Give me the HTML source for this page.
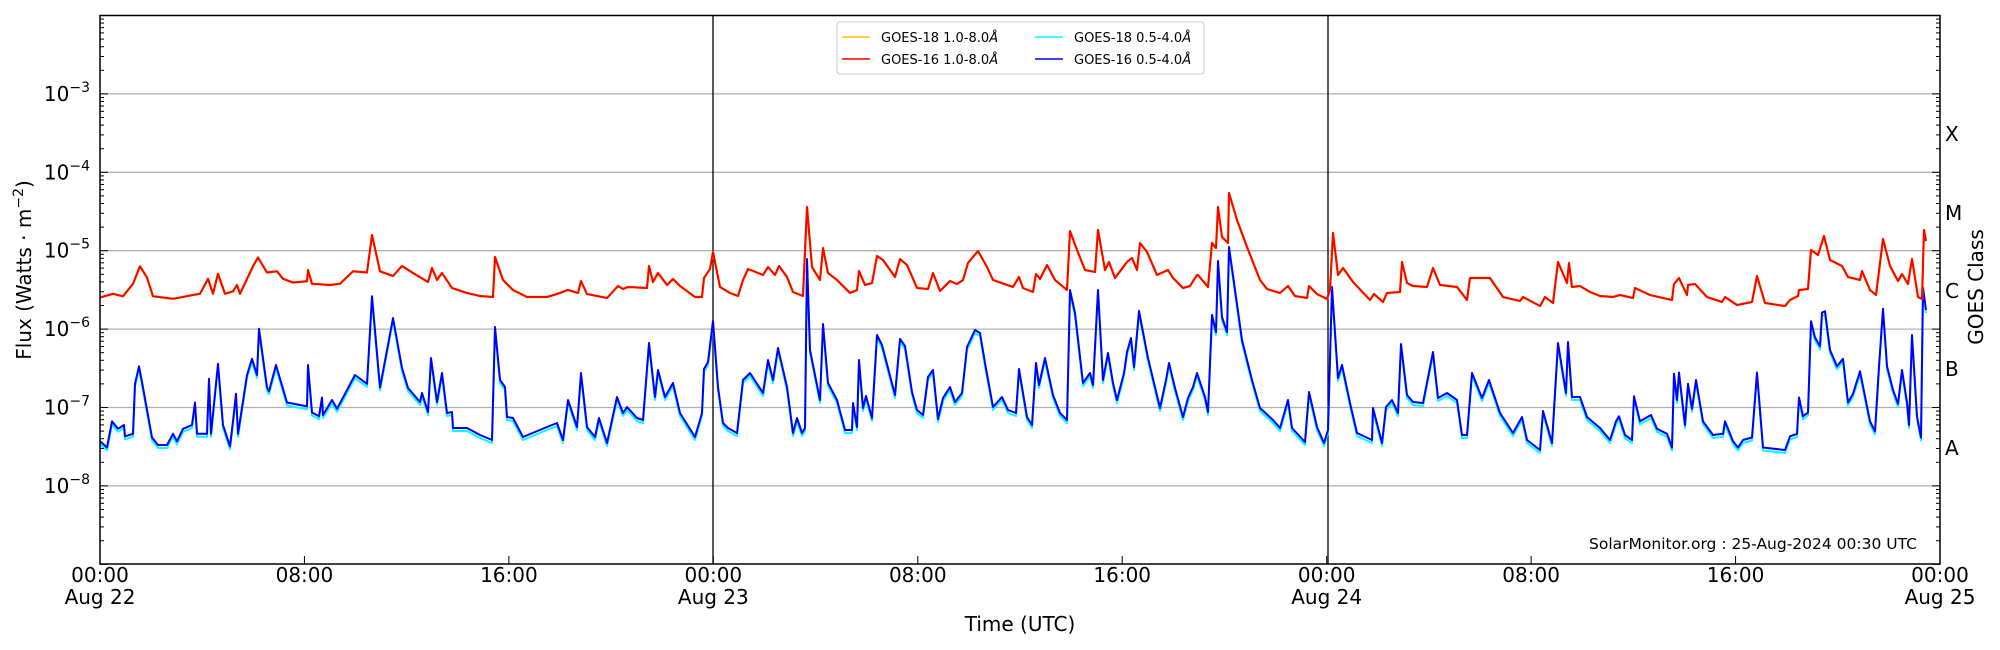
<!DOCTYPE html>
<html><head><meta charset="utf-8"><style>
html,body{margin:0;padding:0;background:#fff;}
svg{display:block;font-family:"DejaVu Sans","Liberation Sans",sans-serif;}
</style></head><body>
<svg id="s" width="2000" height="650" xmlns="http://www.w3.org/2000/svg">
<g id="grid" stroke="#b0b0b0" stroke-width="1.3"></g>
<line x1="713" y1="15.5" x2="713" y2="564" stroke="#000" stroke-width="1.3"/>
<line x1="1328" y1="15.5" x2="1328" y2="564" stroke="#000" stroke-width="1.3"/>
<polyline id="cy" fill="none" stroke="#00ffff" stroke-width="2" stroke-linejoin="round" transform="translate(0,3)"/>
<polyline id="bl" fill="none" stroke="#0000ff" stroke-width="2" stroke-linejoin="round"/>
<polyline id="yl" fill="none" stroke="#ffc000" stroke-width="2.4" stroke-linejoin="round"/>
<polyline id="rd" fill="none" stroke="#ff0000" stroke-width="2" stroke-linejoin="round"/>
<g id="ticks" stroke="#000" stroke-width="1"></g>
<rect x="100" y="15.5" width="1840" height="548.5" fill="none" stroke="#000" stroke-width="1.5"/>
<g id="labels" font-size="20" fill="#000"></g>
<rect x="837" y="22" width="367" height="52" rx="3" fill="#fff" stroke="#ccc" stroke-width="1"/>
<g font-size="13" fill="#000">
<line x1="842" y1="37" x2="870" y2="37" stroke="#ffc000" stroke-width="1.5"/>
<text x="881" y="42">GOES-18 1.0-8.0<tspan font-style="italic">Å</tspan></text>
<line x1="842" y1="59" x2="870" y2="59" stroke="#ff0000" stroke-width="1.5"/>
<text x="881" y="64">GOES-16 1.0-8.0<tspan font-style="italic">Å</tspan></text>
<line x1="1035" y1="37" x2="1063" y2="37" stroke="#00ffff" stroke-width="1.5"/>
<text x="1074" y="42">GOES-18 0.5-4.0<tspan font-style="italic">Å</tspan></text>
<line x1="1035" y1="59" x2="1063" y2="59" stroke="#0000ff" stroke-width="1.5"/>
<text x="1074" y="64">GOES-16 0.5-4.0<tspan font-style="italic">Å</tspan></text>
</g>
<text x="1917" y="549" font-size="15.5" text-anchor="end">SolarMonitor.org : 25-Aug-2024 00:30 UTC</text>
<text x="1020" y="631" font-size="20" text-anchor="middle">Time (UTC)</text>
<text transform="translate(31,270) rotate(-90)" font-size="20" text-anchor="middle">Flux (Watts · m<tspan dy="-8" font-size="14">−2</tspan><tspan dy="8">)</tspan></text>
<text transform="translate(1983,287) rotate(-90)" font-size="20" text-anchor="middle">GOES Class</text>
</svg>
<script>
(function(){
const NS="http://www.w3.org/2000/svg";
function el(p,t,a,txt){const e=document.createElementNS(NS,t);for(const k in a)e.setAttribute(k,a[k]);if(txt!==undefined)e.textContent=txt;p.appendChild(e);return e;}
const yTop=15.5,dec=78.4;
function Y(e){return yTop+(-2-e)*dec;}
const grid=document.getElementById('grid'),ticks=document.getElementById('ticks'),lab=document.getElementById('labels');
for(let e=-3;e>=-8;e--){el(grid,'line',{x1:100,x2:1940,y1:Y(e),y2:Y(e)});}
for(let e=-9;e<-2;e++){
  for(let m=1;m<10;m++){const y=Y(e+Math.log10(m));if(y<15||y>565)continue;const L=m==1?8:4;
    el(ticks,'line',{x1:100,x2:100+L,y1:y,y2:y});el(ticks,'line',{x1:1940,x2:1940-L,y1:y,y2:y});}
}
for(let e=-3;e>=-8;e--){const t=el(lab,'text',{x:90,y:Y(e)+7,'text-anchor':'end'});t.textContent='10';
  el(t,'tspan',{dy:-9,'font-size':14},'−'+(-e));}
const cls=[['X',134],['M',213],['C',291],['B',369],['A',448]];
cls.forEach(c=>el(lab,'text',{x:1945,y:c[1]+7},c[0]));
const tl=['00:00','08:00','16:00'];
for(let i=0;i<=9;i++){const x=100+i*1840/9;el(ticks,'line',{x1:x,x2:x,y1:564,y2:556});
  el(lab,'text',{x:x,y:582,'text-anchor':'middle'},tl[i%3]);
  if(i%3==0)el(lab,'text',{x:x,y:604,'text-anchor':'middle'},'Aug '+(22+i/3));}
const red="100,238 113,235 123,237 133,227 140,213 147,222 153,237 173,239 193,236 200,235 208,223 213,235 218,219 225,235 233,233 237,228 240,235 253,213 258,206 267,218 277,217 283,223 293,226 307,225 308,216 312,227 330,228 340,227 353,217 367,218 372,188 380,217 393,276 402,266 413,273 428,282 432,268 437,280 442,273 452,288 467,293 480,296 493,297 495,257 503,280 513,290 527,297 547,297 557,294 568,290 578,293 581,281 587,294 607,298 618,286 623,289 628,287 647,288 649,266 653,282 658,273 667,285 673,279 680,286 695,297 702,297 704,278 710,269 713,252 720,287 730,293 738,296 743,280 748,269 763,275 768,267 775,275 779,266 787,277 793,292 803,296 807,207 812,267 820,280 823,248 828,273 837,280 850,293 857,290 859,271 865,285 872,283 877,256 883,260 895,277 900,259 907,265 917,288 928,289 933,273 940,291 950,281 957,284 963,280 968,263 978,251 987,267 993,280 1013,287 1019,277 1023,288 1033,292 1036,274 1040,279 1047,265 1055,280 1067,290 1070,231 1077,250 1085,270 1095,272 1098,230 1105,270 1109,262 1115,278 1127,262 1132,258 1137,270 1140,243 1147,252 1157,275 1168,270 1173,278 1183,288 1190,286 1197,275 1198,275 1208,287 1212,243 1216,248 1218,207 1222,237 1228,243 1229,193 1237,220 1247,247 1260,280 1267,289 1280,293 1288,286 1295,296 1307,298 1309,286 1317,294 1327,299 1330,290 1333,233 1338,275 1343,268 1353,282 1370,300 1374,294 1383,302 1387,293 1400,292 1402,262 1407,283 1413,286 1427,287 1433,268 1440,285 1457,287 1467,300 1470,278 1477,278 1490,278 1503,297 1520,301 1523,297 1540,306 1545,297 1553,303 1558,262 1567,283 1569,263 1572,287 1580,286 1590,292 1600,296 1613,297 1620,295 1633,298 1635,288 1650,295 1672,300 1674,284 1679,278 1687,295 1688,285 1695,284 1707,297 1722,302 1725,297 1737,305 1752,302 1757,276 1765,303 1785,306 1790,300 1798,296 1799,290 1808,289 1811,250 1818,255 1824,236 1830,260 1842,266 1848,277 1860,280 1862,271 1870,290 1876,295 1883,239 1890,266 1898,281 1902,274 1908,284 1912,259 1918,297 1922,299 1924,230 1926,241";
const blue="100,353 107,358 112,337 118,343 124,340 125,349 133,347 135,307 139,293 143,310 152,350 158,356 167,356 173,347 177,353 183,343 192,340 195,322 197,347 207,347 209,303 211,347 218,291 223,340 230,357 233,337 236,315 238,347 247,300 252,287 257,300 259,263 267,310 269,313 276,292 287,322 300,324 307,325 308,292 312,330 319,333 322,318 323,332 332,320 337,327 355,300 367,307 372,237 380,310 393,318 402,368 408,388 420,402 422,393 428,412 431,358 437,402 442,373 447,413 452,412 453,428 467,428 480,435 492,440 495,327 500,380 505,387 507,417 513,418 523,437 547,427 557,423 563,440 568,400 577,427 581,373 587,427 595,437 599,418 607,443 617,397 623,413 627,407 637,418 643,420 649,343 655,397 658,370 665,397 673,383 680,413 695,437 702,413 704,369 708,362 713,321 718,387 723,423 728,428 737,433 743,380 750,373 763,393 768,360 773,380 778,348 787,387 793,433 797,418 802,433 805,428 807,259 810,350 820,400 823,324 828,383 837,400 845,430 852,430 853,403 857,427 859,360 863,408 866,396 872,418 877,335 882,345 895,395 900,339 905,346 912,392 917,410 923,415 928,377 933,370 938,419 943,398 950,387 955,402 962,393 967,347 975,330 980,333 985,363 993,407 1002,397 1008,410 1016,413 1019,369 1027,417 1032,425 1036,363 1039,385 1045,358 1053,395 1060,413 1067,420 1070,290 1075,313 1083,383 1090,373 1093,385 1098,290 1103,380 1108,353 1113,383 1117,400 1124,373 1127,352 1131,338 1134,367 1139,311 1148,358 1160,408 1166,380 1169,363 1175,388 1183,417 1188,398 1193,387 1197,373 1205,397 1208,412 1212,315 1216,332 1218,261 1222,317 1227,332 1229,247 1242,340 1252,380 1260,408 1273,420 1280,428 1288,400 1292,428 1305,442 1309,392 1317,427 1324,443 1328,430 1332,287 1338,378 1342,365 1350,403 1357,433 1372,440 1373,408 1382,443 1386,407 1392,400 1398,413 1401,344 1407,395 1413,402 1423,403 1433,352 1438,398 1447,393 1457,400 1462,435 1467,435 1472,373 1482,398 1489,380 1500,413 1513,433 1522,417 1527,440 1540,450 1543,411 1552,443 1558,343 1566,393 1568,342 1572,397 1580,397 1587,417 1600,428 1610,352 1616,337 1619,333 1625,348 1632,352 1634,317 1640,337 1651,332 1657,343 1667,347 1672,358 1674,299 1677,320 1679,298 1685,340 1688,307 1692,327 1696,304 1703,337 1713,348 1723,347 1725,337 1733,353 1738,358 1743,352 1752,350 1757,298 1763,358 1785,360 1790,349 1797,347 1799,318 1803,333 1808,330 1811,257 1815,270 1820,277 1822,250 1825,249 1830,280 1837,293 1843,287 1848,322 1853,315 1860,297 1870,337 1875,345 1879,293 1883,247 1887,293 1893,312 1898,323 1902,296 1907,322 1909,340 1912,268 1917,333 1921,350 1923,230 1926,248";
function fix(s,hiFix){return s.split(' ').map(p=>{let [x,y]=p.split(',').map(Number);
  if(x<=380 || (hiFix && x>1600)) y=y*1.25; return x+','+y.toFixed(1);}).join(' ');}
const r=fix(red,false),b=fix(blue,true);
document.getElementById('rd').setAttribute('points',r);
document.getElementById('yl').setAttribute('points',r);
document.getElementById('bl').setAttribute('points',b);
document.getElementById('cy').setAttribute('points',b);
})();
</script>
</body></html>
